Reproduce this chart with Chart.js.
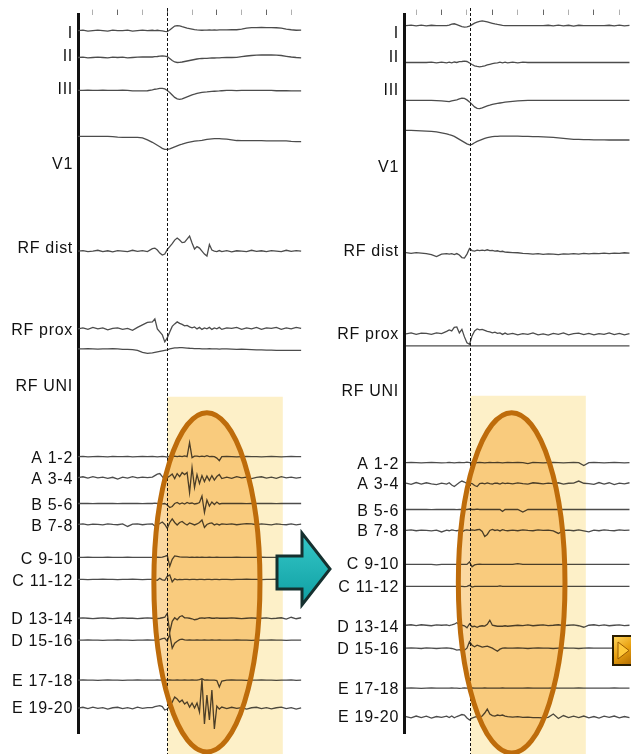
<!DOCTYPE html>
<html>
<head>
<meta charset="utf-8">
<script src="https://cdn.jsdelivr.net/npm/chart.js@4.4.1/dist/chart.umd.min.js"></script>
<style>
  html, body { margin: 0; padding: 0; background: #fff; }
  #wrap { position: relative; width: 631px; height: 754px; overflow: hidden; }
  canvas { position: absolute; top: 0; }
  #before { left: 0; }
  #after { left: 320px; }
</style>
</head>
<body>
<div id="wrap">
  <canvas id="before" width="340" height="754"></canvas>
  <canvas id="after" width="311" height="754"></canvas>
</div>
<script>
// ---- channels ----
const leads = ['I', 'II', 'III', 'V1', 'RF dist', 'RF prox', 'RF UNI',
  'A 1-2', 'A 3-4', 'B 5-6', 'B 7-8', 'C 9-10', 'C 11-12',
  'D 13-14', 'D 15-16', 'E 17-18', 'E 19-20'];

// ---- sample times (ms), finer around the activation ----
const timeL = [-180,-170,-160,-150,-140,-130,-120,-110,-100,-90,-80,-70,-60,-50,-40,
  -30,-25,-20,-15,-10,-5,0,5,10,15,20,25,30,35,40,45,50,55,60,65,70,75,80,85,90,95,100,105,110,
  120,130,140,150,160,170,180,190,200,210,220,230,240,250,260,270];
const timeR = [-120,-110,-100,-90,-80,-70,-60,-50,
  -40,-35,-30,-25,-20,-15,-10,-5,0,5,10,15,20,25,30,35,40,45,50,55,60,65,70,75,80,
  90,100,110,120,130,140,150,160,170,180,190,200,210,220,230,240,250,260,270,280,290,300,310,320];

// time-axis tick marks (ms)
const ticksL = [-150,-100,-50,0,50,100,150,200,250];
const ticksR = [-100,-50,0,50,100,150,200,250,300];

// ---- left panel signals (amplitude, up = positive) ----
const iL = [0,0.5,-0.5,0,0.5,0,-0.5,0.5,0,0,0.5,-0.5,0,0.5,0,
  0.3,0,0.3,0,-0.3,-0.8,-1,0.5,2.5,4.5,5,4.8,4,3.3,2.5,2,1.5,1,0.7,0.5,0.3,0.5,0.5,0.7,0.5,0.6,0.5,0.7,0.6,
  0.7,0.8,0.8,1.5,2.5,3,3,3.2,3,3,2.8,2.5,1.5,0.8,0.3,0.5];
const iiL = [0,0.3,-0.3,0,0.3,0,-0.3,0.3,0,0.3,-0.3,0,0.3,0.5,0.5,
  0.5,0.8,1,1.3,1.5,1.3,0.8,-1,-3,-4.5,-5,-4.8,-4.5,-4,-3.5,-3,-2.5,-2,-1.5,-1.2,-1,-0.9,-0.8,-0.6,-0.5,-0.5,-0.4,-0.3,-0.2,
  0,0,0.2,0.8,1.5,2,2.3,2.5,2.5,2.5,2.3,2,1.2,0.5,0,-0.3];
const iiiL = [0,0,0.2,0,0,0.2,0,0,0,0.2,0,-0.5,-0.5,-0.5,-0.3,
  0.5,1.2,1.5,2,2,1.5,0,-2,-4.5,-7,-8.5,-9,-8.5,-7.5,-6.5,-5.5,-4.5,-3.8,-3,-2.5,-2,-1.7,-1.5,-1.2,-1,-0.8,-0.6,-0.5,-0.3,
  0,0,-0.2,0,0,0,0,0,0,0,-0.3,-0.3,-0.3,-0.5,-0.5,-0.5];
const v1L = [1,1,1,1,1,1,1,0.7,0.2,0,0,0,0,-0.5,-2.5,
  -5,-6.5,-8,-9.5,-11,-12,-12,-11.5,-10.5,-9.5,-8.5,-7.5,-6.8,-6,-5.3,-4.8,-4.3,-3.8,-3.5,-3.3,-3,-2.5,-2,-1.7,-1.5,-1.3,-1.3,-1.3,-1.5,
  -1.8,-2.5,-3.2,-3.3,-3.3,-3.3,-3.3,-3.3,-3.5,-3.5,-3.5,-3.5,-3.5,-4,-4.3,-4.3];
const rfDistL = [0,0.5,-0.5,0,0.8,-0.5,0.3,-0.8,0.5,0,-0.5,0.8,-0.3,0.5,-0.5,
  2.5,3,1,-2,-4,-3,1.5,4.5,7.5,11,13,11,8.5,9,12,15,8,2,4.5,3,0,-3,-5,6.5,1,0,-0.5,0.5,-0.5,
  0.5,-0.8,0.3,0,-0.5,0.8,-0.3,0.3,-0.5,0.5,0,-0.5,0.8,-0.3,0.5,0];
const rfProxL = [0,1,-0.5,1.5,0,1,-1,0.5,1,-0.5,0.5,-1.5,1.5,4,6.5,
  7,10,0,-3,-6,-13,-9,-3,2.5,5,7,5.5,4.5,3,3.5,2,1,2,0,1.5,-0.5,1,0,1.5,-0.5,1,0,1.5,-0.5,
  1,0.5,1.5,-0.5,1,0,1.5,-0.5,1,0.5,1.5,-0.5,1,0,1.5,0.5];
const rfUniL = [0,0,0.3,0,-0.3,0,0,0.3,0,-0.5,-0.5,-0.8,-1.5,-3.5,-4.5,
  -4,-3.5,-3,-2.5,-2,-1.5,-1,0,0.5,1,1,1.2,1.2,1,0.8,0.6,0.5,0.3,0.3,0.3,0,0,0,0.3,0,0,0,-0.3,0,
  0,-0.3,-0.5,-0.3,-0.5,-0.8,-1,-1,-1.2,-1.3,-1.5,-1.5,-1.5,-1.5,-1.5,-1.5];
const a12L = [0,0.3,-0.3,0,0.3,0,-0.3,0.3,0,0,0.3,-0.3,0,0.3,0,
  0.3,0,-0.3,0,0.3,0,-0.5,0.5,0,0.5,0,0.5,0,0.8,0,14,-1,0.5,0.5,0,0.5,0,1,0,0.3,0,-1.5,-4,0,
  0.3,0,-0.3,0,0.3,0,0,-0.3,0,0.3,0,-0.3,0,0.3,0,0];
const a34L = [0,0.8,-0.5,1,-0.3,0.5,-0.8,0.3,-1.5,0.5,-0.5,1,-0.3,0.5,0,
  0.5,2,3.5,4,1,-2,0,1.5,3.5,-1,4,1,5,3,5,-15,10,-10,3,-6,2,-4,1.5,-3,2,-2.5,1,3,-1,
  0.5,-0.8,1,-0.3,0.5,-1,0.3,0.8,-0.5,0.5,-0.8,1,-0.3,0.5,-0.5,0.3];
const b56L = [0,0.2,0,-0.2,0,0.2,0,0,-0.2,0,0.2,0,0,-0.2,0,
  0,0.3,0,0,-0.3,0,-1.5,-4,-3,0,1,-0.5,0.5,-0.5,1,0,0.5,-0.5,0,1,7.5,-9,3.5,-2.5,1.5,-1,1.5,-0.5,0,
  0,0.2,0,0,-0.2,0,0,0.2,0,0,-0.2,0,0.2,0,0,0];
const b78L = [0,0.5,-0.5,0.3,0,-0.5,0.5,0,-0.3,0.5,-2,0.3,0.5,-0.3,0.3,
  0.5,-1.5,-0.5,1,2.5,0,-4,2,5.5,2,-0.5,2,3,1,-0.5,1.5,0.5,-0.5,0.5,2,4.5,-3,0,1,1.5,-0.5,0.5,-0.5,0.5,
  0,0.5,-0.3,0.3,0.8,0.5,-0.3,0.5,0,-0.5,0.5,0,-0.3,0.5,-0.5,0.3];
const c910L = [0,0,0.2,0,0,0,0.2,0,0,0,0.2,0,0,0,0,
  0,0,0.3,0,0.3,1,2,-9,-2,1.5,1,0.5,0.3,0.3,0.3,0,0.3,0,0.3,0,0.3,0,0,0.3,0,0,0.3,0,0,
  0,0,0.2,0,0,0,0,0.2,0,0,0,0,0.2,0,0,0];
const c1112L = [0,0,-0.2,0,0,0.2,0,0,-0.2,0,0,0.2,0,-0.2,0,
  0,-0.5,-1,1,-0.5,-1,3,4.5,-2.5,0.5,-0.5,0,-0.3,0,0,-0.3,0,0,-0.3,0,0,-0.3,0,0,-0.3,0,0,-0.3,0,
  0,-0.2,0,0,0.2,0,0,-0.2,0,0,0.2,0,0,-0.2,0,0];
const d1314L = [0,0.3,0,-0.3,0,0.3,0,-0.3,0,0.3,0,0,-0.3,0,0.3,
  0,0.3,-0.3,0,0.5,1,5,-14,-3,0.5,-1.5,1.5,2.5,0.5,0.3,0,-0.5,-1.5,-1,0,0.3,0,0.3,0.5,0,0,0.3,0,0,
  0,0.3,0,-0.3,0,0.3,0,0,0.3,-0.3,0,0.5,-0.8,1,-0.5,0.5];
const d1516L = [0,0,0.2,0,0,-0.2,0,0,0.2,0,0,-0.2,0,0,0.2,
  0,0,0.3,0.5,1.5,2,-1,6,-8,-3,-1,0.5,1,0.3,0,0.3,0,0,0.3,0,0,0.3,0,0,0.3,0,0,0.3,0,
  0,0,0.2,0,0,-0.2,0,0,0,0.2,0,0,-0.2,0,0,0];
const e1718L = [0,0.2,0,0,-0.2,0,0.2,0,0,-0.2,0,0,0.2,0,0,
  0,0,0.2,0,0,0.3,0,0.2,0,0,0.2,0,0,0.2,0,0,0.2,0,0,0.5,1.5,0,0.2,0,0,0,-0.5,-7,-1,
  0,0.2,0,0,-0.2,0,0,0.2,0,0,-0.2,0,0,0.3,-0.3,0];
const e1920L = [0,0.8,-0.5,1,-0.3,0.5,-1,0.3,0.8,-0.5,0.5,-0.8,1,-0.3,0.5,
  0.5,1.5,2,2.5,1.5,-2,-1,2,6,11,9,6,8,4,6,1,5,0,5,-4,29,-16,13,-12,18,-21,2,-1,1,
  -0.5,0.8,-0.3,0.5,-1,0.3,0.8,-0.5,0.5,-0.8,0.3,1,-0.5,0.5,-1,0.3];

// ---- right panel signals ----
const iR = [0,0.5,-0.3,0.5,-0.3,0.3,0,0,
  0,0.5,1.5,1.8,1,0,-1,-1.5,-1.3,-0.5,1,2.5,3.5,4.3,4.7,4.3,3.7,3,2.3,1.6,1.1,0.7,0.3,0,0,
  0,0,0,0,0,0,0,0.3,-0.3,0.5,-0.3,0.3,-0.5,0.3,0,0,0,0,0,0.3,-0.3,0.5,-0.3,0.3];
const iiR = [0,0,0,0,0,0.3,-0.3,0.3,
  -0.3,0.3,-0.3,0.5,0,0.8,1,1.3,1,-0.5,-2,-3.3,-4,-4.3,-4,-3.3,-2.5,-1.8,-1.2,-0.7,-0.3,0.3,-0.3,0.3,-0.3,
  0.3,-0.3,0.3,0,0,0,0,0,0,0,0,0,0,0,0,0,0,0,0,0,0,0,0,0];
const iiiR = [0,0,0,0,0,0,-0.3,-0.5,
  -1,-1.3,-0.5,0,0.5,1.5,2.3,2,0.5,-1.5,-4,-6.5,-8,-8.3,-7.5,-6.5,-5.5,-4.8,-4,-3.5,-3,-2.6,-2.2,-1.8,-1.5,
  -1,-0.5,-0.2,0,0,0,0,0,0,0,0,0,0,0,0,0,0,0,0,0,0,0,0,0];
const v1R = [0,0,-0.3,-0.5,-0.8,-1,-1.5,-2.5,
  -3.5,-4.3,-5,-6,-7.5,-9,-10.5,-12,-13.5,-14.5,-14,-12.5,-11,-10,-9,-8,-7.3,-6.8,-6.3,-6,-6,-5.8,-5.8,-5.8,-5.8,
  -5.8,-5.8,-6,-6,-6.2,-6.3,-6.5,-6.8,-7,-7.5,-8,-8.5,-9,-9,-9.3,-9.3,-9.5,-9.5,-9.5,-9.7,-9.7,-9.7,-9.7,-9.7];
const rfDistR = [0.5,-0.3,0.5,0,-0.5,-1.5,-3.5,-1,
  -0.5,-1,-0.5,-1.5,-0.5,-2,-4.5,-5,-1,4.5,2.5,2,3,2.5,3,2.5,3.3,2.5,2.7,2,2.3,1.5,1.8,1,0.8,
  0.5,0.3,-0.3,-0.5,-1,-0.5,-1.3,-0.8,-1,-1.5,-0.8,-1,-0.5,-1,-0.3,-0.8,-0.3,-0.5,0,-0.5,0,-0.3,0.3,0];
const rfProxR = [0,1,-0.5,0.8,0.5,-0.5,1,0.3,
  2.5,4,3,6.5,7,1,4.5,-3,-9,-10.5,-2,3,5,4,4.5,3.5,2.5,2,1,1.8,0.5,1,-0.5,0.8,-0.5,
  0.5,-1,0.3,-0.5,1,-1,0,-1.3,0.5,-0.5,1,-1,0.3,0.8,-0.8,0.5,-1,0.3,-0.5,1,-0.8,0.5,-1,0.3];
const rfUniR = [0,0,0,0,0,0,0,0,
  0,0,0,0,0,0,0,0,0,0,0,0,0,0,0,0,0,0,0,0,0,0,0,0,0,
  0,0,0,0,0,0,0,0,0,0,0,0,0,0,0,0,0,0,0,0,0,0,0,0];
const a12R = [0,0.3,0,-0.3,0,0.3,0,-0.3,
  0,0.3,0,-0.3,0,0.3,0,0,0.5,0,0.3,-0.5,0,0.3,0,-0.3,0,0.3,0,0,0.3,0,-0.3,0,0.3,
  0,0.3,0,-1,0.3,0,-0.3,0,0.3,0,-0.3,0,0.3,0,-3,0,0.3,0,-0.3,0,0.3,0,-0.3,0];
const a34R = [0.5,-0.8,1,-0.5,0.8,-0.3,-1,0.5,
  -0.5,0.8,-1.5,-3,-1,1,2.5,1.5,0,0.5,0,-2,-3,0,0.5,-0.3,0.7,0,-0.5,0.5,0.3,-0.5,0.7,0,0.5,
  -0.3,0.7,0,-0.5,0.8,0.3,-0.3,0.5,0,0.8,-0.5,0.3,0.5,2.5,0.3,0,-0.8,1,-0.5,0.8,-1,0.5,-0.3,0.8];
const b56R = [0,0,0.2,0,0,-0.2,0,0,
  0,0.2,0,0,-0.2,0,0,0.2,0,0.5,0,0,0.3,0,0,0.2,0,0,0,0,0,0,-2,0,0,
  0,0,-2.5,0,0,0,0.2,0,0,0,0,0.2,0,0,0,0,0.2,0,0,0,0,0.2,0,0];
const b78R = [0,0.5,-0.3,0.3,0,-0.5,0.3,-1.5,
  0.3,-0.3,0.5,0,-0.3,0.3,-1.5,0,0.5,0,0.5,0,0.7,1,-1,-6,-4,0,1,0,0.5,-0.5,0.8,0,-0.3,
  0.3,-0.3,0.5,0,-0.3,0.5,0,0.3,-0.5,-3,0,0.3,-0.3,0.5,-0.5,-1.5,0.3,-0.3,0.5,0,-0.3,0.5,0,0.3];
const c910R = [0,0,0,0,0,0,-0.5,0,
  0,0,0,0,0,0.2,0,0,0,2.5,-2.5,-0.5,0,0.3,0,0,0,0,0,0,0,0,0,0,0,
  0,0.8,0,0,0,0,0,0,0,0,0,0,0,0,0,0,0,0,0,0,0,0,0,0];
const c1112R = [0,0,0,0,0,0,0,0,
  0,0,0,0,0,0,0,-0.3,0,1,-0.8,0,0,0,0,0,0,0,0,0,0,0.5,0,0,0,
  0,0,0,0,0,0,0,0,0,0,0,0,0,0,0,0,0,0,0,0,0,0,0,0];
const d1314R = [0,0.5,-0.3,0.5,0,-0.5,0.3,0,
  0.3,-0.3,0.3,1,2.5,0.5,0,-0.5,-2.5,1.5,-1.5,-1,-2,-1,-0.5,-0.8,1,5,0,-0.5,-1,-0.8,-1,-0.5,-1,
  -0.5,0,-0.3,0.3,-0.5,0,0.3,-0.3,0,0.5,-0.3,0,0.3,-0.5,-2,0,0.5,-0.3,0.3,-0.5,0,0.3,-0.3,0];
const d1516R = [0,0.3,0,-0.3,0.3,0,-0.3,0,
  0.3,0,-0.3,-1,-2,-1.5,-2.5,-2,0,6.5,3,1.5,3,2,1,1.5,2,1,0,-1.5,-3,-1,0,0.3,0,
  0,0.3,0,-0.3,0,0.3,0,0,-0.3,0,0.3,0,0,-0.3,0,0.3,0,0,0,0,0,0,0,0];
const e1718R = [0,0.3,0,-0.3,0,0.3,0,0,
  0,0,0.2,0,0,-0.2,0,0.3,0,0,0.2,0,0,0,0,0.2,0,0,0,0,0,0,0.2,0,0,
  0,0,0,0.2,0,0,0,0,0.2,0,0,0,0,0.2,0,0,0,0,0,0,0.2,0,0,0];
const e1920R = [0.5,-0.8,1,-0.5,0.8,-1,0.5,-0.3,
  0.8,-0.5,1,-0.8,0.5,1.5,2.5,2,-1,-3,-1,0,0.5,0,1,4,8,3,1.5,1,2,1.5,2,1,0.5,
  0,0.5,-0.3,0,-0.5,-0.5,-0.8,-0.3,3,-1.5,1.5,-0.5,0.8,-0.5,1,-0.8,0.5,-1,0.8,-0.3,1,-0.8,0.5,-0.5];

// ---- layout: row baselines and label rows on the vertical axis ----
const rowsL = [29,56,89,136,250,328,348,456,477,503,524,557,579,618,640,680,708];
const labelRowsL = [32,55.5,88.5,163,247.5,330,386,458,479,505,526,559,581,619,641,681,709];
const rowsR = [24,61,99,129,252,333,345,462,483,509,530,564,586,625,648,688,717];
const labelRowsR = [32,56,89,166,251,334,391,464,484.5,511,531,564,587.5,627.5,649,689,717.5];

// shaded window, onset line and highlight ellipse, in axis units
const marksL = { onset: 0, winFrom: 0, winTo: 233, winTop: 396, ellX: 80, ellW: 107, ellY: 582, ellH: 170, arrow: true };
const marksR = { onset: 6, winFrom: 7, winTo: 234, winTop: 395, ellX: 88, ellW: 105, ellY: 582.5, ellH: 170.5, button: true };

const marks = {
  id: 'marks',
  beforeDraw(chart) {
    chart.ctx.letterSpacing = '0.7px';
  },
  afterDatasetsDraw(chart, args, o) {
    const { ctx, scales: { x, y } } = chart;
    const H = chart.height;
    const x0 = x.getPixelForValue(o.winFrom), x1 = x.getPixelForValue(o.winTo);
    const yt = y.getPixelForValue(o.winTop);
    const cx = x.getPixelForValue(o.ellX), rx = x.getPixelForValue(o.ellX + o.ellW) - cx;
    const cy = y.getPixelForValue(o.ellY), ry = y.getPixelForValue(o.ellY + o.ellH) - cy;

    ctx.save();
    ctx.globalCompositeOperation = 'multiply';
    ctx.fillStyle = 'rgb(253,240,200)';
    ctx.fillRect(x0, yt, x1 - x0, H - yt);
    ctx.beginPath();
    ctx.ellipse(cx, cy, rx, ry, 0, 0, Math.PI * 2);
    ctx.fillStyle = 'rgb(251,216,160)';
    ctx.fill();
    ctx.restore();

    // onset marker
    ctx.save();
    const xo = Math.round(x.getPixelForValue(o.onset)) + 0.5;
    ctx.setLineDash([3, 2]);
    ctx.lineWidth = 1;
    ctx.strokeStyle = '#111';
    ctx.beginPath();
    ctx.moveTo(xo, 8);
    ctx.lineTo(xo, H);
    ctx.stroke();
    ctx.restore();

    ctx.save();
    ctx.beginPath();
    ctx.ellipse(cx, cy, rx, ry, 0, 0, Math.PI * 2);
    ctx.lineWidth = 5;
    ctx.strokeStyle = '#BE6C0B';
    ctx.stroke();
    ctx.restore();
  },
  afterDraw(chart, args, o) {
    const ctx = chart.ctx;
    ctx.letterSpacing = '0px';
    if (o.arrow) {
      ctx.save();
      ctx.beginPath();
      ctx.moveTo(277, 556); ctx.lineTo(302, 556); ctx.lineTo(302, 533);
      ctx.lineTo(330, 569); ctx.lineTo(302, 605); ctx.lineTo(302, 589);
      ctx.lineTo(277, 589); ctx.closePath();
      const g = ctx.createLinearGradient(0, 533, 0, 605);
      g.addColorStop(0, '#35C8C8');
      g.addColorStop(1, '#0F9EA2');
      ctx.fillStyle = g;
      ctx.fill();
      ctx.lineJoin = 'miter';
      ctx.lineWidth = 3;
      ctx.strokeStyle = '#15302f';
      ctx.stroke();
      ctx.restore();
    }
    if (o.button) {
      ctx.save();
      ctx.fillStyle = '#2a1d00';
      ctx.fillRect(292, 635, 22, 31);
      const g = ctx.createLinearGradient(294, 637, 314, 664);
      g.addColorStop(0, '#FFD45A');
      g.addColorStop(0.5, '#E8A010');
      g.addColorStop(1, '#B06A00');
      ctx.fillStyle = g;
      ctx.fillRect(294, 637, 20, 27);
      ctx.beginPath();
      ctx.moveTo(298, 642); ctx.lineTo(309, 650.5); ctx.lineTo(298, 659); ctx.closePath();
      ctx.fillStyle = '#FFC93A';
      ctx.fill();
      ctx.lineWidth = 1;
      ctx.strokeStyle = '#9A5A00';
      ctx.stroke();
      ctx.restore();
    }
  }
};

function panel(id, cfg) {
  return new Chart(document.getElementById(id), {
    type: 'line',
    data: {
      datasets: cfg.traces.map((vals, k) => ({
        label: leads[k],
        data: vals.map((v, i) => ({ x: cfg.time[i], y: cfg.rows[k] - v })),
        borderColor: '#4c4c4c',
        borderWidth: 1.3,
        pointRadius: 0,
        tension: 0,
        fill: false
      }))
    },
    options: {
      responsive: false,
      animation: false,
      devicePixelRatio: 1,
      layout: { padding: { top: 8, right: cfg.padRight, bottom: 21, left: 0 } },
      plugins: { legend: { display: false }, tooltip: { enabled: false }, marks: cfg.marks },
      scales: {
        x: {
          type: 'linear', position: 'top', min: cfg.xMin, max: cfg.xMax,
          afterBuildTicks: s => { s.ticks = cfg.ticks.map(v => ({ value: v })); },
          afterFit: s => { s.height = 5; },
          ticks: { display: false },
          grid: { drawOnChartArea: false, tickLength: 5, tickWidth: 1,
                  tickColor: c => (c.index % 2 ? '#666' : '#b0b0b0') },
          border: { display: false }
        },
        y: {
          type: 'linear', reverse: true, min: 13, max: 733,
          afterBuildTicks: s => { s.ticks = cfg.labelRows.map(v => ({ value: v })); },
          afterFit: s => { s.width = cfg.axisWidth; },
          ticks: {
            autoSkip: false, padding: 5, color: '#111',
            font: { family: '"Liberation Sans", Arial, sans-serif', size: 16 },
            callback: (v, i) => leads[i]
          },
          grid: { display: false, drawTicks: false },
          border: { display: true, width: 3, color: '#111' }
        }
      }
    },
    plugins: [marks]
  });
}

panel('before', {
  time: timeL, rows: rowsL, labelRows: labelRowsL, ticks: ticksL,
  traces: [iL, iiL, iiiL, v1L, rfDistL, rfProxL, rfUniL, a12L, a34L, b56L, b78L,
           c910L, c1112L, d1314L, d1516L, e1718L, e1920L],
  xMin: -180, xMax: 304, padRight: 22, axisWidth: 78, marks: marksL
});
panel('after', {
  time: timeR, rows: rowsR, labelRows: labelRowsR, ticks: ticksR,
  traces: [iR, iiR, iiiR, v1R, rfDistR, rfProxR, rfUniR, a12R, a34R, b56R, b78R,
           c910R, c1112R, d1314R, d1516R, e1718R, e1920R],
  xMin: -124, xMax: 323, padRight: 0, axisWidth: 84, marks: marksR
});
</script>
</body>
</html>
